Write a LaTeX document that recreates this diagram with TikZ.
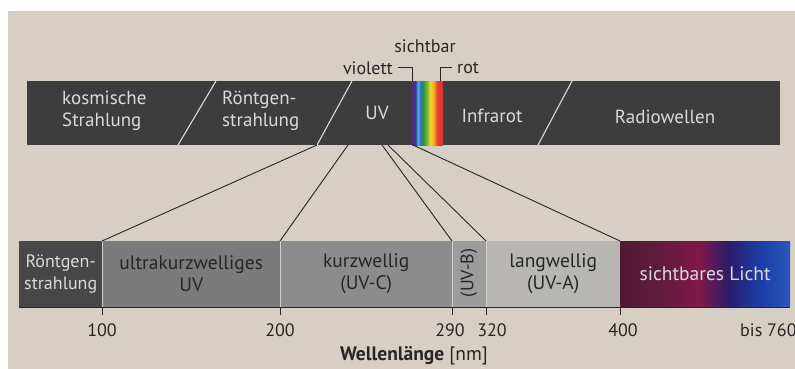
\documentclass[tikz,border=0pt]{standalone}
\usepackage{fontspec}
\setmainfont{PT Sans}
\definecolor{paper}{HTML}{D7CFC3}
\definecolor{topgray}{HTML}{3D3D3D}
\definecolor{toptxt}{HTML}{DADADA}
\definecolor{darktxt}{HTML}{262626}
\definecolor{seproe}{HTML}{474747}
\definecolor{segult}{HTML}{7B7B7B}
\definecolor{seguvc}{HTML}{8C8C8C}
\definecolor{seguvb}{HTML}{9C9C9C}
\definecolor{seguva}{HTML}{B8B6B3}
\definecolor{sepline}{HTML}{D2D2D2}
\definecolor{v1}{HTML}{501A33}
\definecolor{v1b}{HTML}{621B3C}
\definecolor{v2}{HTML}{801848}
\definecolor{v3}{HTML}{2B1D6A}
\definecolor{v4}{HTML}{1B3DA6}
\definecolor{v5}{HTML}{2C58BA}
\definecolor{s1}{HTML}{5A2A80}
\definecolor{s2}{HTML}{2C3C90}
\definecolor{s3}{HTML}{5AAEE8}
\definecolor{s4}{HTML}{3070C0}
\definecolor{s5}{HTML}{2A9640}
\definecolor{s6}{HTML}{80B830}
\definecolor{s7}{HTML}{F0D830}
\definecolor{s8}{HTML}{F0A020}
\definecolor{s9}{HTML}{E83A30}
\definecolor{s10}{HTML}{D83030}
\pgfdeclarehorizontalshading{visshade}{100bp}{color(0bp)=(v1); color(25bp)=(v1); color(37bp)=(v1b); color(48bp)=(v2); color(57bp)=(v3); color(66bp)=(v4); color(75bp)=(v5); color(100bp)=(v5)}
\pgfdeclarehorizontalshading{specshade}{100bp}{color(0bp)=(s1); color(25bp)=(s1); color(29.8bp)=(s2); color(34.7bp)=(s3); color(37.9bp)=(s4); color(42.7bp)=(s5); color(49.2bp)=(s6); color(54bp)=(s7); color(60.5bp)=(s8); color(65.3bp)=(s9); color(75bp)=(s10); color(100bp)=(s10)}
\begin{document}
\begin{tikzpicture}[x=1pt,y=-1pt,
  lbl/.style={font=\fontsize{19.5}{22}\selectfont, inner sep=0pt, align=center},
  toplbl/.style={font=\fontsize{19}{22}\selectfont, inner sep=0pt, align=center, text=toptxt},
  seg/.style={lbl, anchor=north west, minimum height=66pt, text=darktxt},
  sepl/.style={draw=sepline, line width=0.9pt},
  divl/.style={draw=toptxt, line width=1.1pt},
  conn/.style={draw=darktxt, line width=0.9pt},
  tickline/.style={draw=darktxt, line width=0.8pt},
  numlbl/.style={font=\fontsize{18}{21.5}\selectfont, inner sep=0pt, align=center, text=darktxt}]
\useasboundingbox (0,0) rectangle (795,369);
\fill[white] (0,0) rectangle (795,369);
\fill[paper] (8,11) rectangle (795,369);

% top bar
\node[fill=topgray, minimum width=753pt, minimum height=64pt, anchor=north west, inner sep=0pt] (topbar) at (27,81) {};
\node[shade, shading=specshade, minimum width=31pt, minimum height=64pt, anchor=north west, inner sep=0pt] (spec) at (412,81) {};
\draw[divl] (216,81) -- (178,145);
\draw[divl] (352,81) -- (317,145);
\draw[divl] (572,81) -- (538,145);
\node[toplbl, align=left, anchor=west] (kos) at (62,111) {kosmische\\Strahlung};
\node[toplbl, align=left, anchor=west] (roet) at (222,111) {Röntgen-\\strahlung};
\node[toplbl] (uv) at (377,113) {UV};
\node[toplbl] (ir) at (492,116) {Infrarot};
\node[toplbl] (radio) at (665,117) {Radiowellen};

% labels above
\node[numlbl] (sicht) at (425,46) {sichtbar};
\node[numlbl, anchor=east] (viol) at (393,68) {violett};
\node[numlbl, anchor=west] (rot) at (457,68) {rot};
\coordinate (vb1) at (398,67);
\coordinate (vb2) at (412,67);
\coordinate (vb3) at (412,81);
\coordinate (rb1) at (452,67);
\coordinate (rb2) at (440,67);
\coordinate (rb3) at (440,81);
\draw[tickline] (vb1) -- (vb2) -- (vb3);
\draw[tickline] (rb1) -- (rb2) -- (rb3);

% bottom bar
\node[seg, fill=seproe, minimum width=83pt, text=toptxt, font=\fontsize{18}{22}\selectfont] (sroe) at (19,241) {Röntgen-\\strahlung};
\node[seg, fill=segult, minimum width=178pt] (sult) at (102,241) {ultrakurzwelliges\\UV};
\node[seg, fill=seguvc, minimum width=172pt] (suvc) at (280,241) {kurzwellig\\(UV-C)};
\node[seg, fill=seguvb, minimum width=34pt] (suvb) at (452,241) {};
\node[numlbl, rotate=90] (uvbl) at (469,273) {(UV-B)};
\node[seg, fill=seguva, minimum width=134pt] (suva) at (486,241) {langwellig\\(UV-A)};
\node[seg, shade, shading=visshade, minimum width=170pt, text=toptxt] (svis) at (620,241) {sichtbares Licht};
\draw[sepl] (sult.north west) -- (sult.south west);
\draw[sepl] (suvc.north west) -- (suvc.south west);
\draw[sepl] (suvb.north west) -- (suvb.south west);
\draw[sepl] (suva.north west) -- (suva.south west);
\draw[draw=darktxt, line width=1pt] (sroe.south west) -- (svis.south east);

% ticks
\foreach \n in {sult,suvc,suvb,suva,svis}{
  \draw[tickline] (\n.south west) -- ++(0,8);
}
\node[numlbl] (n100) at (102,330) {100};
\node[numlbl] (n200) at (280,330) {200};
\node[numlbl] (n290) at (450,330) {290};
\node[numlbl] (n320) at (492,330) {320};
\node[numlbl] (n400) at (623,330) {400};
\node[numlbl, anchor=west] (n760) at (740,330) {bis 760};
\node[lbl, text=darktxt] (wl) at (414,356) {\textbf{Wellenlänge} [nm]};

% connectors
\coordinate (p1) at (317,145);
\coordinate (p2) at (348,145);
\coordinate (p3) at (382,145);
\coordinate (p4) at (388,145);
\coordinate (p5) at (413,145);
\draw[conn] (p1) -- (sult.north west);
\draw[conn] (p2) -- (suvc.north west);
\draw[conn] (p3) -- (suvb.north west);
\draw[conn] (p4) -- (suva.north west);
\draw[conn] (p5) -- (svis.north west);
\end{tikzpicture}
\end{document}
